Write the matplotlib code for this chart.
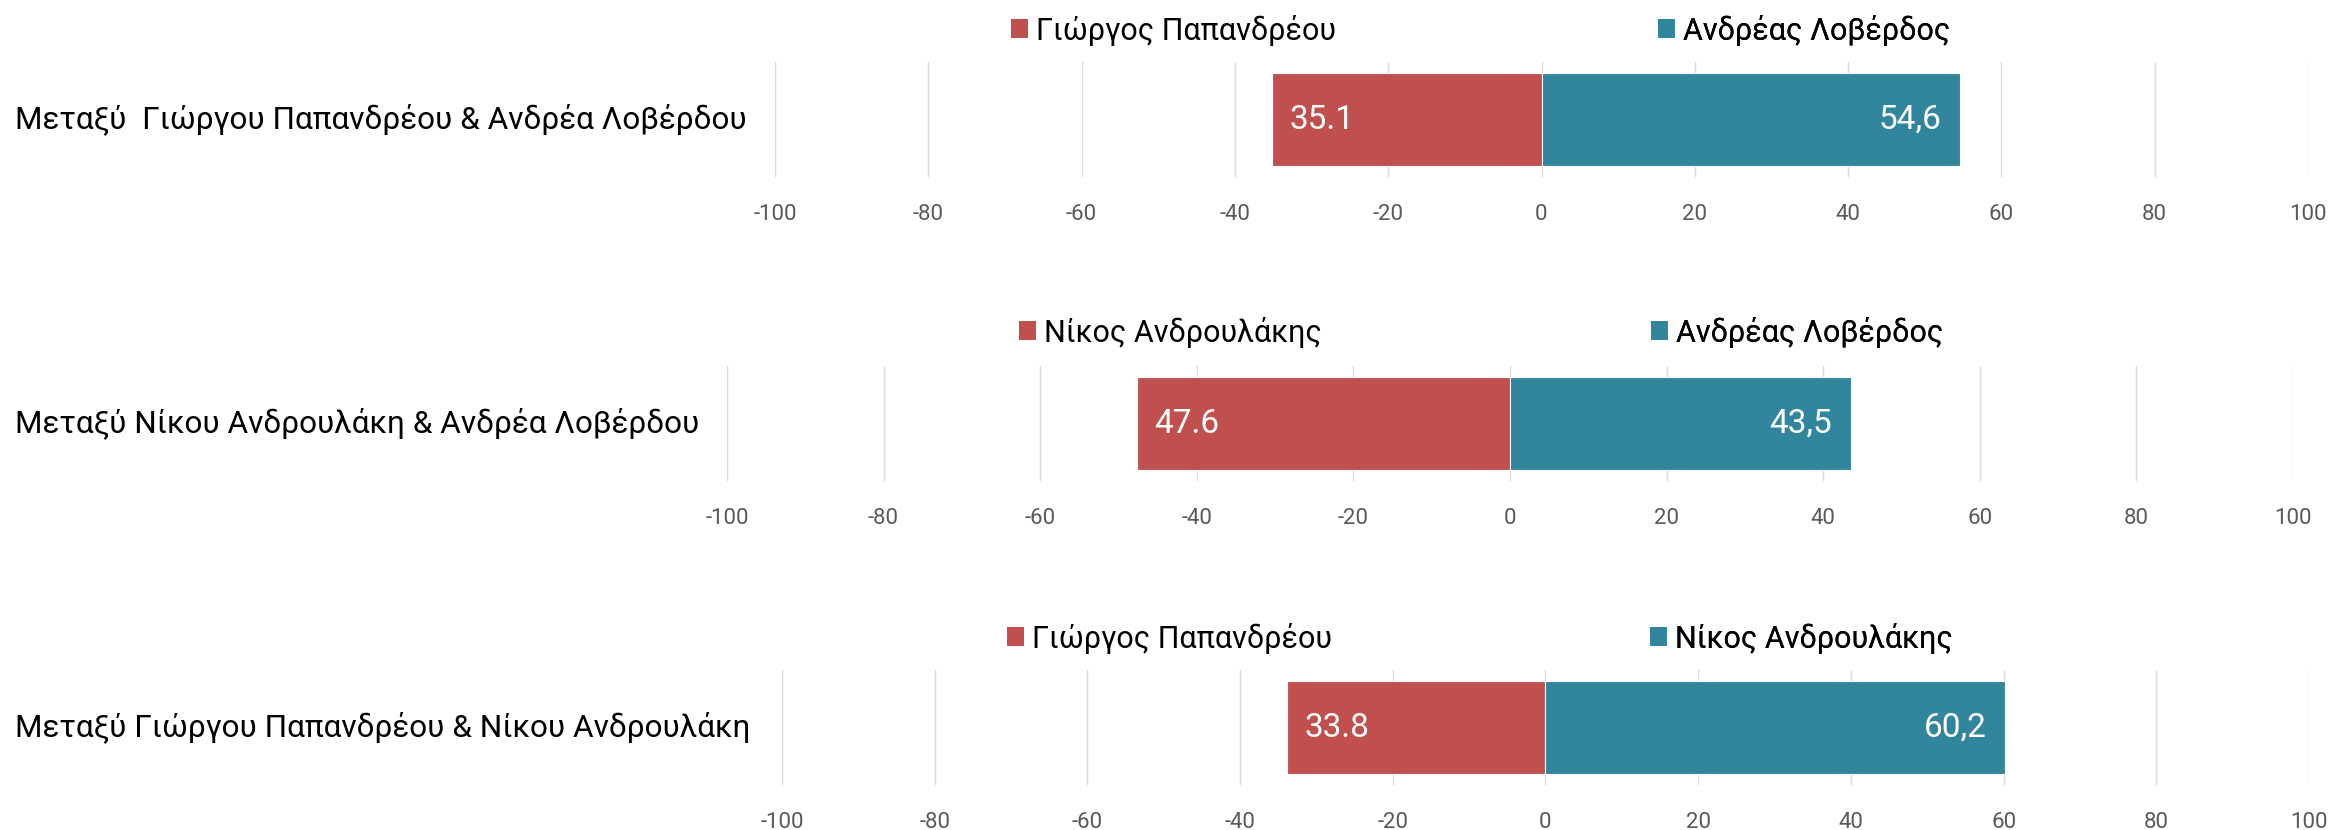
import matplotlib
matplotlib.use("Agg")
import matplotlib.pyplot as plt
from matplotlib.patches import Patch

plt.rcParams['font.family'] = ['Roboto', 'DejaVu Sans']
plt.rcParams['axes.unicode_minus'] = False

# ---- data ----
categories = [
    "Μεταξύ  Γιώργου Παπανδρέου & Ανδρέα Λοβέρδου",
    "Μεταξύ Νίκου Ανδρουλάκη & Ανδρέα Λοβέρδου",
    "Μεταξύ Γιώργου Παπανδρέου & Νίκου Ανδρουλάκη",
]
left_names = ["Γιώργος Παπανδρέου", "Νίκος Ανδρουλάκης", "Γιώργος Παπανδρέου"]
right_names = ["Ανδρέας Λοβέρδος", "Ανδρέας Λοβέρδος", "Νίκος Ανδρουλάκης"]
left_values = [35.1, 47.6, 33.8]
right_values = [54.6, 43.5, 60.2]
left_labels = ["35.1", "47.6", "33.8"]
right_labels = ["54,6", "43,5", "60,2"]
x_ticks = [-100, -80, -60, -40, -20, 0, 20, 40, 60, 80, 100]

# ---- style / layout ----
W, H = 2336, 830
RED = "#C0504D"
TEAL = "#31859C"
GRID = "#D9D9D9"
TICK = "#595959"

# axes pixel boxes: (x0, x1, ytop, ybot)
boxes = [(775, 2308, 62, 177), (727, 2293, 366, 481), (782, 2309, 670, 785)]
# legend square positions (x of red square, x of blue square, y center)
leg_pos = [(1011, 1658, 30), (1019, 1651, 332), (1007, 1650, 638)]

fig = plt.figure(figsize=(W / 100, H / 100), dpi=100)
fig.patch.set_facecolor("white")

for i in range(3):
    x0, x1, yt, yb = boxes[i]
    ax = fig.add_axes([x0 / W, 1 - yb / H, (x1 - x0) / W, (yb - yt) / H])
    ax.set_xlim(-100, 100)
    ax.set_ylim(-0.5, 0.5)
    ax.barh(0, -left_values[i], height=0.81, color=RED, edgecolor="white", linewidth=0.8, zorder=3)
    ax.barh(0, right_values[i], height=0.81, color=TEAL, edgecolor="white", linewidth=0.8, zorder=3)
    ax.set_xticks(x_ticks)
    ax.set_xticklabels([str(t) for t in x_ticks])
    ax.tick_params(axis="x", length=0, pad=19.5, labelsize=16, labelcolor=TICK)
    ax.set_yticks([])
    ax.grid(axis="x", color=GRID, linewidth=1.0, zorder=0)
    ax.set_axisbelow(True)
    for s in ax.spines.values():
        s.set_visible(False)

    ax.annotate(left_labels[i], xy=(-left_values[i], 0), xytext=(12, 0),
                textcoords="offset points", ha="left", va="center",
                color="white", fontsize=24, zorder=5)
    ax.annotate(right_labels[i], xy=(right_values[i], 0), xytext=(-13.5, 0),
                textcoords="offset points", ha="right", va="center",
                color="white", fontsize=24, zorder=5)

    # category label
    fig.text(15 / W, 1 - ((yt + yb) / 2) / H, categories[i], ha="left", va="center",
             fontsize=22.7, color="black")

    # legends
    rx, bx, ly = leg_pos[i]
    for name, col, lx in [(left_names[i], RED, rx), (right_names[i], TEAL, bx)]:
        leg = ax.legend(handles=[Patch(facecolor=col, edgecolor="none", label=name)],
                        loc="center left", bbox_to_anchor=(lx / W, 1 - ly / H),
                        bbox_transform=fig.transFigure, frameon=False,
                        fontsize=22, handlelength=0.56, handleheight=0.56,
                        handletextpad=0.27, borderpad=0, borderaxespad=0)
        ax.add_artist(leg)

fig.savefig("out.png", dpi=100, facecolor="white")
